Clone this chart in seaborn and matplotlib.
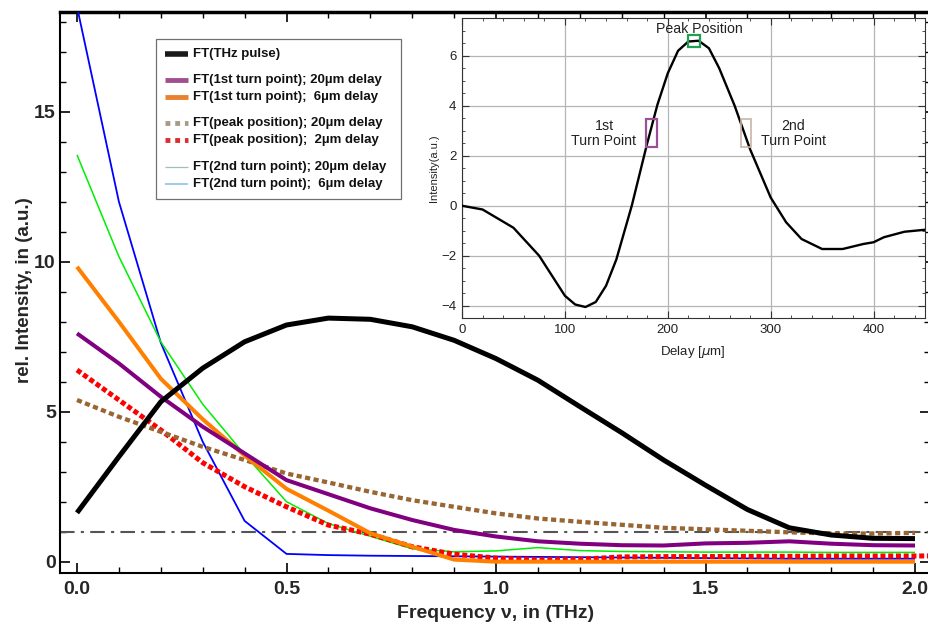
import numpy as np
import pandas as pd
import seaborn as sns
import matplotlib
matplotlib.use("Agg")
import matplotlib.pyplot as plt
from matplotlib.lines import Line2D
from matplotlib.patches import Rectangle
from matplotlib.ticker import MultipleLocator

# ---------------- data ----------------
freq = [0.0, 0.1, 0.2, 0.3, 0.4, 0.5, 0.6, 0.7, 0.8, 0.9, 1.0,
        1.1, 1.2, 1.3, 1.4, 1.5, 1.6, 1.7, 1.8, 1.9, 2.0]
thz_pulse = [1.63, 3.5, 5.33, 6.45, 7.33, 7.89, 8.12, 8.08, 7.83, 7.38, 6.77,
             6.05, 5.17, 4.3, 3.39, 2.55, 1.74, 1.13, 0.89, 0.78, 0.77]
turn1_20 = [7.61, 6.61, 5.5, 4.5, 3.61, 2.72, 2.25, 1.78, 1.39, 1.06, 0.84,
            0.68, 0.6, 0.55, 0.54, 0.61, 0.63, 0.68, 0.6, 0.55, 0.54]
turn1_6 = [9.83, 8.0, 6.1, 4.75, 3.54, 2.43, 1.7, 0.95, 0.5, 0.07, 0.0,
           0.0, 0.0, 0.0, 0.0, 0.0, 0.0, 0.0, 0.0, 0.0, 0.0]
peak_20 = [5.39, 4.83, 4.33, 3.83, 3.39, 2.94, 2.64, 2.33, 2.05, 1.83, 1.61,
           1.44, 1.33, 1.23, 1.13, 1.08, 1.03, 0.98, 0.94, 0.94, 0.96]
peak_freq = freq + [2.1]
peak_2 = [6.39, 5.39, 4.39, 3.3, 2.5, 1.83, 1.22, 0.92, 0.5, 0.25, 0.12,
          0.07, 0.08, 0.16, 0.17, 0.17, 0.18, 0.18, 0.19, 0.19, 0.19, 0.2]
turn2_20 = [13.56, 10.17, 7.33, 5.25, 3.57, 2.0, 1.27, 0.85, 0.43, 0.33, 0.36,
            0.47, 0.37, 0.34, 0.33, 0.32, 0.32, 0.32, 0.31, 0.31, 0.31]
turn2_6 = [18.5, 12.0, 7.3, 4.0, 1.36, 0.26, 0.22, 0.2, 0.19, 0.18, 0.17,
           0.16, 0.15, 0.14, 0.13, 0.12, 0.11, 0.1, 0.1, 0.1, 0.1]
threshold = 1.0

legend_labels = ["FT(THz pulse)",
                 "FT(1st turn point); 20\u00b5m delay",
                 "FT(1st turn point);  6\u00b5m delay",
                 "FT(peak position); 20\u00b5m delay",
                 "FT(peak position);  2\u00b5m delay",
                 "FT(2nd turn point); 20\u00b5m delay",
                 "FT(2nd turn point);  6\u00b5m delay"]

# inset: THz pulse in time domain
delay = [0, 20, 50, 75, 100, 110, 120, 130, 140, 150, 165, 180, 190, 200, 210,
         220, 230, 240, 250, 265, 280, 300, 315, 330, 350, 370, 390, 400, 410,
         430, 450]
pulse = [0.0, -0.15, -0.88, -2.0, -3.6, -3.95, -4.05, -3.85, -3.2, -2.15, 0.0,
         2.5, 4.05, 5.3, 6.2, 6.57, 6.6, 6.3, 5.5, 4.0, 2.26, 0.33, -0.66,
         -1.33, -1.73, -1.73, -1.53, -1.46, -1.26, -1.04, -0.96]

# ---------------- style ----------------
sns.set_style("ticks")
plt.rcParams["font.family"] = ["Liberation Sans", "DejaVu Sans"]
NARROW = ["Liberation Sans Narrow", "Liberation Sans", "DejaVu Sans"]

W, H = 929, 627
fig = plt.figure(figsize=(W / 100, H / 100), dpi=100)
ax = fig.add_axes([60 / W, 54 / H, 870 / W, 561 / H])

def line(x, y, color, lw, ls="-", z=2):
    df = pd.DataFrame({"x": x, "y": y})
    sns.lineplot(data=df, x="x", y="y", ax=ax, color=color, lw=lw,
                 linestyle=ls, estimator=None, sort=False, zorder=z,
                 solid_capstyle="butt", dash_capstyle="butt")

line(freq, turn2_6, "#0000ff", 1.3, z=3)
line(freq, turn2_20, "#00ee00", 1.1, z=3)
line(peak_freq, peak_2, "#ff0000", 3.6, (0, (1.0, 0.55)), z=4)
line(freq, peak_20, "#996633", 3.1, (0, (1.2, 0.8)), z=4)
line(freq, turn1_6, "#ff8000", 2.9, z=5)
line(freq, turn1_20, "#800080", 2.9, z=5)
line(freq, thz_pulse, "#000000", 3.6, z=6)
ax.axhline(threshold, color="#555555", lw=1.5, ls=(0, (7, 3, 1.5, 3)), zorder=2)

ax.set_xlim((60 - 77) / 419, (930 - 77) / 419)
ax.set_ylim((561.7 - 573) / 30, (561.7 - 12) / 30)
ax.xaxis.set_major_locator(MultipleLocator(0.5))
ax.xaxis.set_minor_locator(MultipleLocator(0.1))
ax.yaxis.set_major_locator(MultipleLocator(5))
ax.yaxis.set_minor_locator(MultipleLocator(1))
ax.xaxis.set_major_formatter(matplotlib.ticker.FormatStrFormatter("%.1f"))
ax.tick_params(which="both", direction="in", top=True, right=True, color="black")
ax.tick_params(which="major", length=7, width=1.2)
ax.tick_params(which="minor", length=4, width=1.0)
ax.tick_params(axis="x", pad=6)
ax.tick_params(axis="y", pad=3)
for lab in ax.get_xticklabels() + ax.get_yticklabels():
    lab.set_family(NARROW)
    lab.set_fontweight("bold")
    lab.set_fontsize(14)
for s in ax.spines.values():
    s.set_linewidth(1.5)
    s.set_color("black")
ax.spines["top"].set_linewidth(2.5)
ax.set_xlabel("Frequency \u03bd, in (THz)", family=NARROW, fontweight="bold", fontsize=14)
ax.set_ylabel("rel. Intensity, in (a.u.)", family=NARROW, fontweight="bold", fontsize=13.5)
ax.xaxis.set_label_coords((496 - 60) / 870, (573 - 605) / 561)
ax.yaxis.set_label_coords((33 - 60) / 870, (573 - 290) / 561)

# ---------------- legend (drawn as a framed key) ----------------
def fx(px):
    return px / W

def fy(py):
    return 1 - py / H

fig.add_artist(Rectangle((fx(156), fy(199)), fx(401) - fx(156), fy(39) - fy(199),
                         transform=fig.transFigure, facecolor="white",
                         edgecolor="#707070", lw=0.9, zorder=5))
leg_styles = [("#1a1a1a", 4.0, "-"),
              ("#a0508f", 3.5, "-"),
              ("#e8822f", 3.5, "-"),
              ("#a89a88", 3.5, (0, (1, 1))),
              ("#d83030", 3.5, (0, (1, 1))),
              ("#9cc0bc", 0.9, "-"),
              ("#8ec3e8", 1.2, "-")]
rows = [53.7, 80, 97, 123, 140, 167, 184.5]
for (c, lw, ls), yy, lab in zip(leg_styles, rows, legend_labels):
    fig.add_artist(Line2D([fx(165), fx(188)], [fy(yy), fy(yy)], color=c, lw=lw,
                          ls=ls, transform=fig.transFigure, zorder=6,
                          solid_capstyle="butt", dash_capstyle="butt"))
    fig.text(fx(193), fy(yy), lab, fontsize=9.5, fontweight="bold",
             va="center", ha="left", zorder=6, color="#111111")

# ---------------- inset ----------------
ins = fig.add_axes([462 / W, 1 - 318 / H, 463 / W, 300 / H])
ins.set_facecolor("white")
sns.lineplot(x=delay, y=pulse, ax=ins, color="black", lw=1.7, estimator=None,
             sort=False, zorder=3)
ins.set_xlim(0, 450)
ins.set_ylim(-4.49, 7.51)
ins.xaxis.set_major_locator(MultipleLocator(100))
ins.xaxis.set_minor_locator(MultipleLocator(20))
ins.yaxis.set_major_locator(MultipleLocator(2))
ins.yaxis.set_minor_locator(MultipleLocator(0.5))
ins.grid(True, which="major", color="#b5b5b5", lw=0.9)
ins.tick_params(which="both", direction="in", top=True, right=True,
                labelsize=9.5, color="#333333", labelcolor="#222222")
ins.tick_params(which="major", length=5, width=0.8, pad=4)
ins.tick_params(which="minor", length=2.5, width=0.6)
for s in ins.spines.values():
    s.set_linewidth(0.8)
    s.set_color("#333333")
ins.set_xlabel("Delay [$\\mu$m]", fontsize=9.5, color="#222222")
ins.set_ylabel("Intensity(a.u.)", fontsize=8, color="#222222")
ins.xaxis.set_label_coords(0.499, -0.085)
ins.yaxis.set_label_coords(-0.05, 0.5)

ins.add_patch(Rectangle((179, 2.36), 11, 1.12, fill=False, edgecolor="#9b4f96",
                        lw=1.6, zorder=5))
ins.add_patch(Rectangle((271.5, 2.36), 9.8, 1.12, fill=False, edgecolor="#c8b4a4",
                        lw=1.2, zorder=5))
ins.add_patch(Rectangle((220, 6.36), 11.6, 0.48, fill=False, edgecolor="#1fa055",
                        lw=1.6, zorder=5))
ins.text(138, 2.9, "1st\nTurn Point", ha="center", va="center", fontsize=10.2,
         color="#222222", linespacing=1.1)
ins.text(322, 2.9, "2nd\nTurn Point", ha="center", va="center", fontsize=10.2,
         color="#222222", linespacing=1.1)
ins.text(230.6, 7.08, "Peak Position", ha="center", va="center", fontsize=10.2,
         color="#222222")

fig.savefig("out.png", dpi=100, facecolor="white")
